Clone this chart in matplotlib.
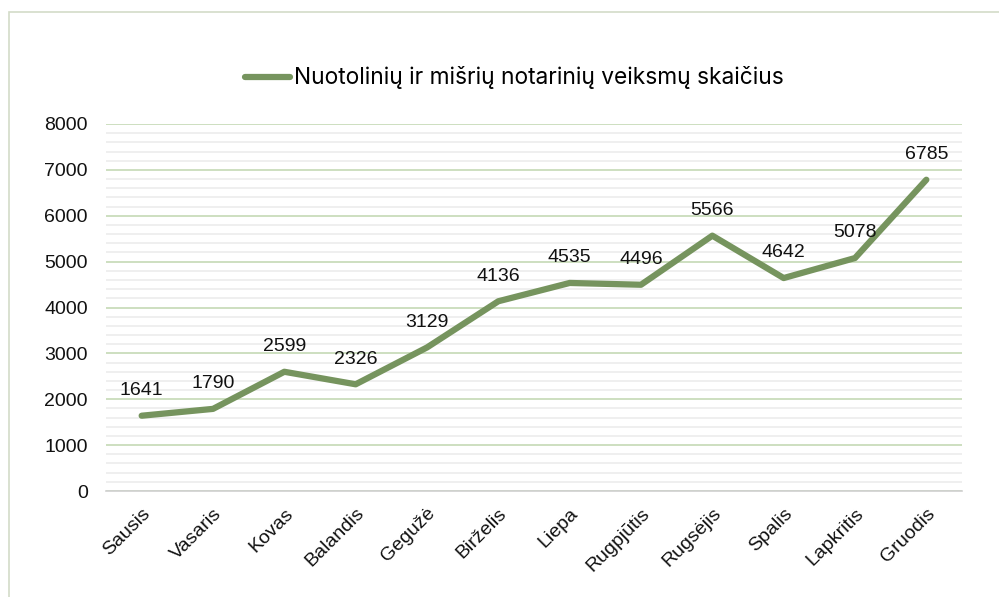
import matplotlib.pyplot as plt
from matplotlib.patches import Rectangle
from matplotlib.ticker import MultipleLocator

# months and counts
months = ["Sausis", "Vasaris", "Kovas", "Balandis", "Gegužė", "Birželis",
          "Liepa", "Rugpjūtis", "Rugsėjis", "Spalis", "Lapkritis", "Gruodis"]
counts = [1641, 1790, 2599, 2326, 3129, 4136, 4535, 4496, 5566, 4642, 5078, 6785]
series_name = "Nuotolinių ir mišrių notarinių veiksmų skaičius"

line_color = "#76945e"

fig = plt.figure(figsize=(9.99, 5.97), dpi=100)
plt.rcParams['font.family'] = ['Liberation Sans', 'DejaVu Sans']

# outer chart border (only left/top visible in the picture)
fig.patches.append(Rectangle((9 / 999, -0.05), 1.2, 1 - 12 / 597 + 0.05,
                             transform=fig.transFigure, fill=False,
                             edgecolor="#d3dcc8", linewidth=1.2))

ax = fig.add_axes([106 / 999, 1 - 491 / 597, (962 - 106) / 999, (491 - 124) / 597])

x = range(len(months))
ax.plot(x, counts, color=line_color, linewidth=4.5, solid_capstyle="round",
        solid_joinstyle="round", zorder=3)

for i, v in enumerate(counts):
    ax.annotate(str(v), (i, v), xytext=(0, 12), textcoords="offset points",
                ha="center", va="bottom", fontsize=14, color="#111111")

ax.set_xlim(-0.5, len(months) - 0.5)
ax.set_ylim(0, 8000)
ax.yaxis.set_major_locator(MultipleLocator(1000))
ax.yaxis.set_minor_locator(MultipleLocator(200))
ax.grid(axis="y", which="major", color="#c5d9b5", linewidth=1.2)
ax.grid(axis="y", which="minor", color="#ececec", linewidth=1.2)
ax.set_axisbelow(True)

for s in ["top", "right", "left"]:
    ax.spines[s].set_visible(False)
ax.spines["bottom"].set_color("#d0d0d0")
ax.spines["bottom"].set_linewidth(1.2)

ax.set_xticks(list(x))
ax.set_xticklabels(months, rotation=45, ha="right", rotation_mode="anchor", fontsize=14)
ax.tick_params(axis="both", length=0, labelsize=14, colors="#111111")
ax.tick_params(axis="x", pad=10)
ax.tick_params(axis="y", pad=13)
ax.tick_params(axis="y", which="minor", length=0)

# legend placed above the plot
ax.plot([], [], color=line_color, linewidth=4.5, solid_capstyle="round", label=series_name)
leg = ax.legend(loc="center", bbox_to_anchor=(0.5 - 20 / 856, 1 + (124 - 78) / 367), frameon=False,
                handlelength=2.0, handletextpad=0.15,
                prop={"family": ["Inter", "DejaVu Sans"], "size": 16.4})

fig.savefig("out.png", dpi=100)
